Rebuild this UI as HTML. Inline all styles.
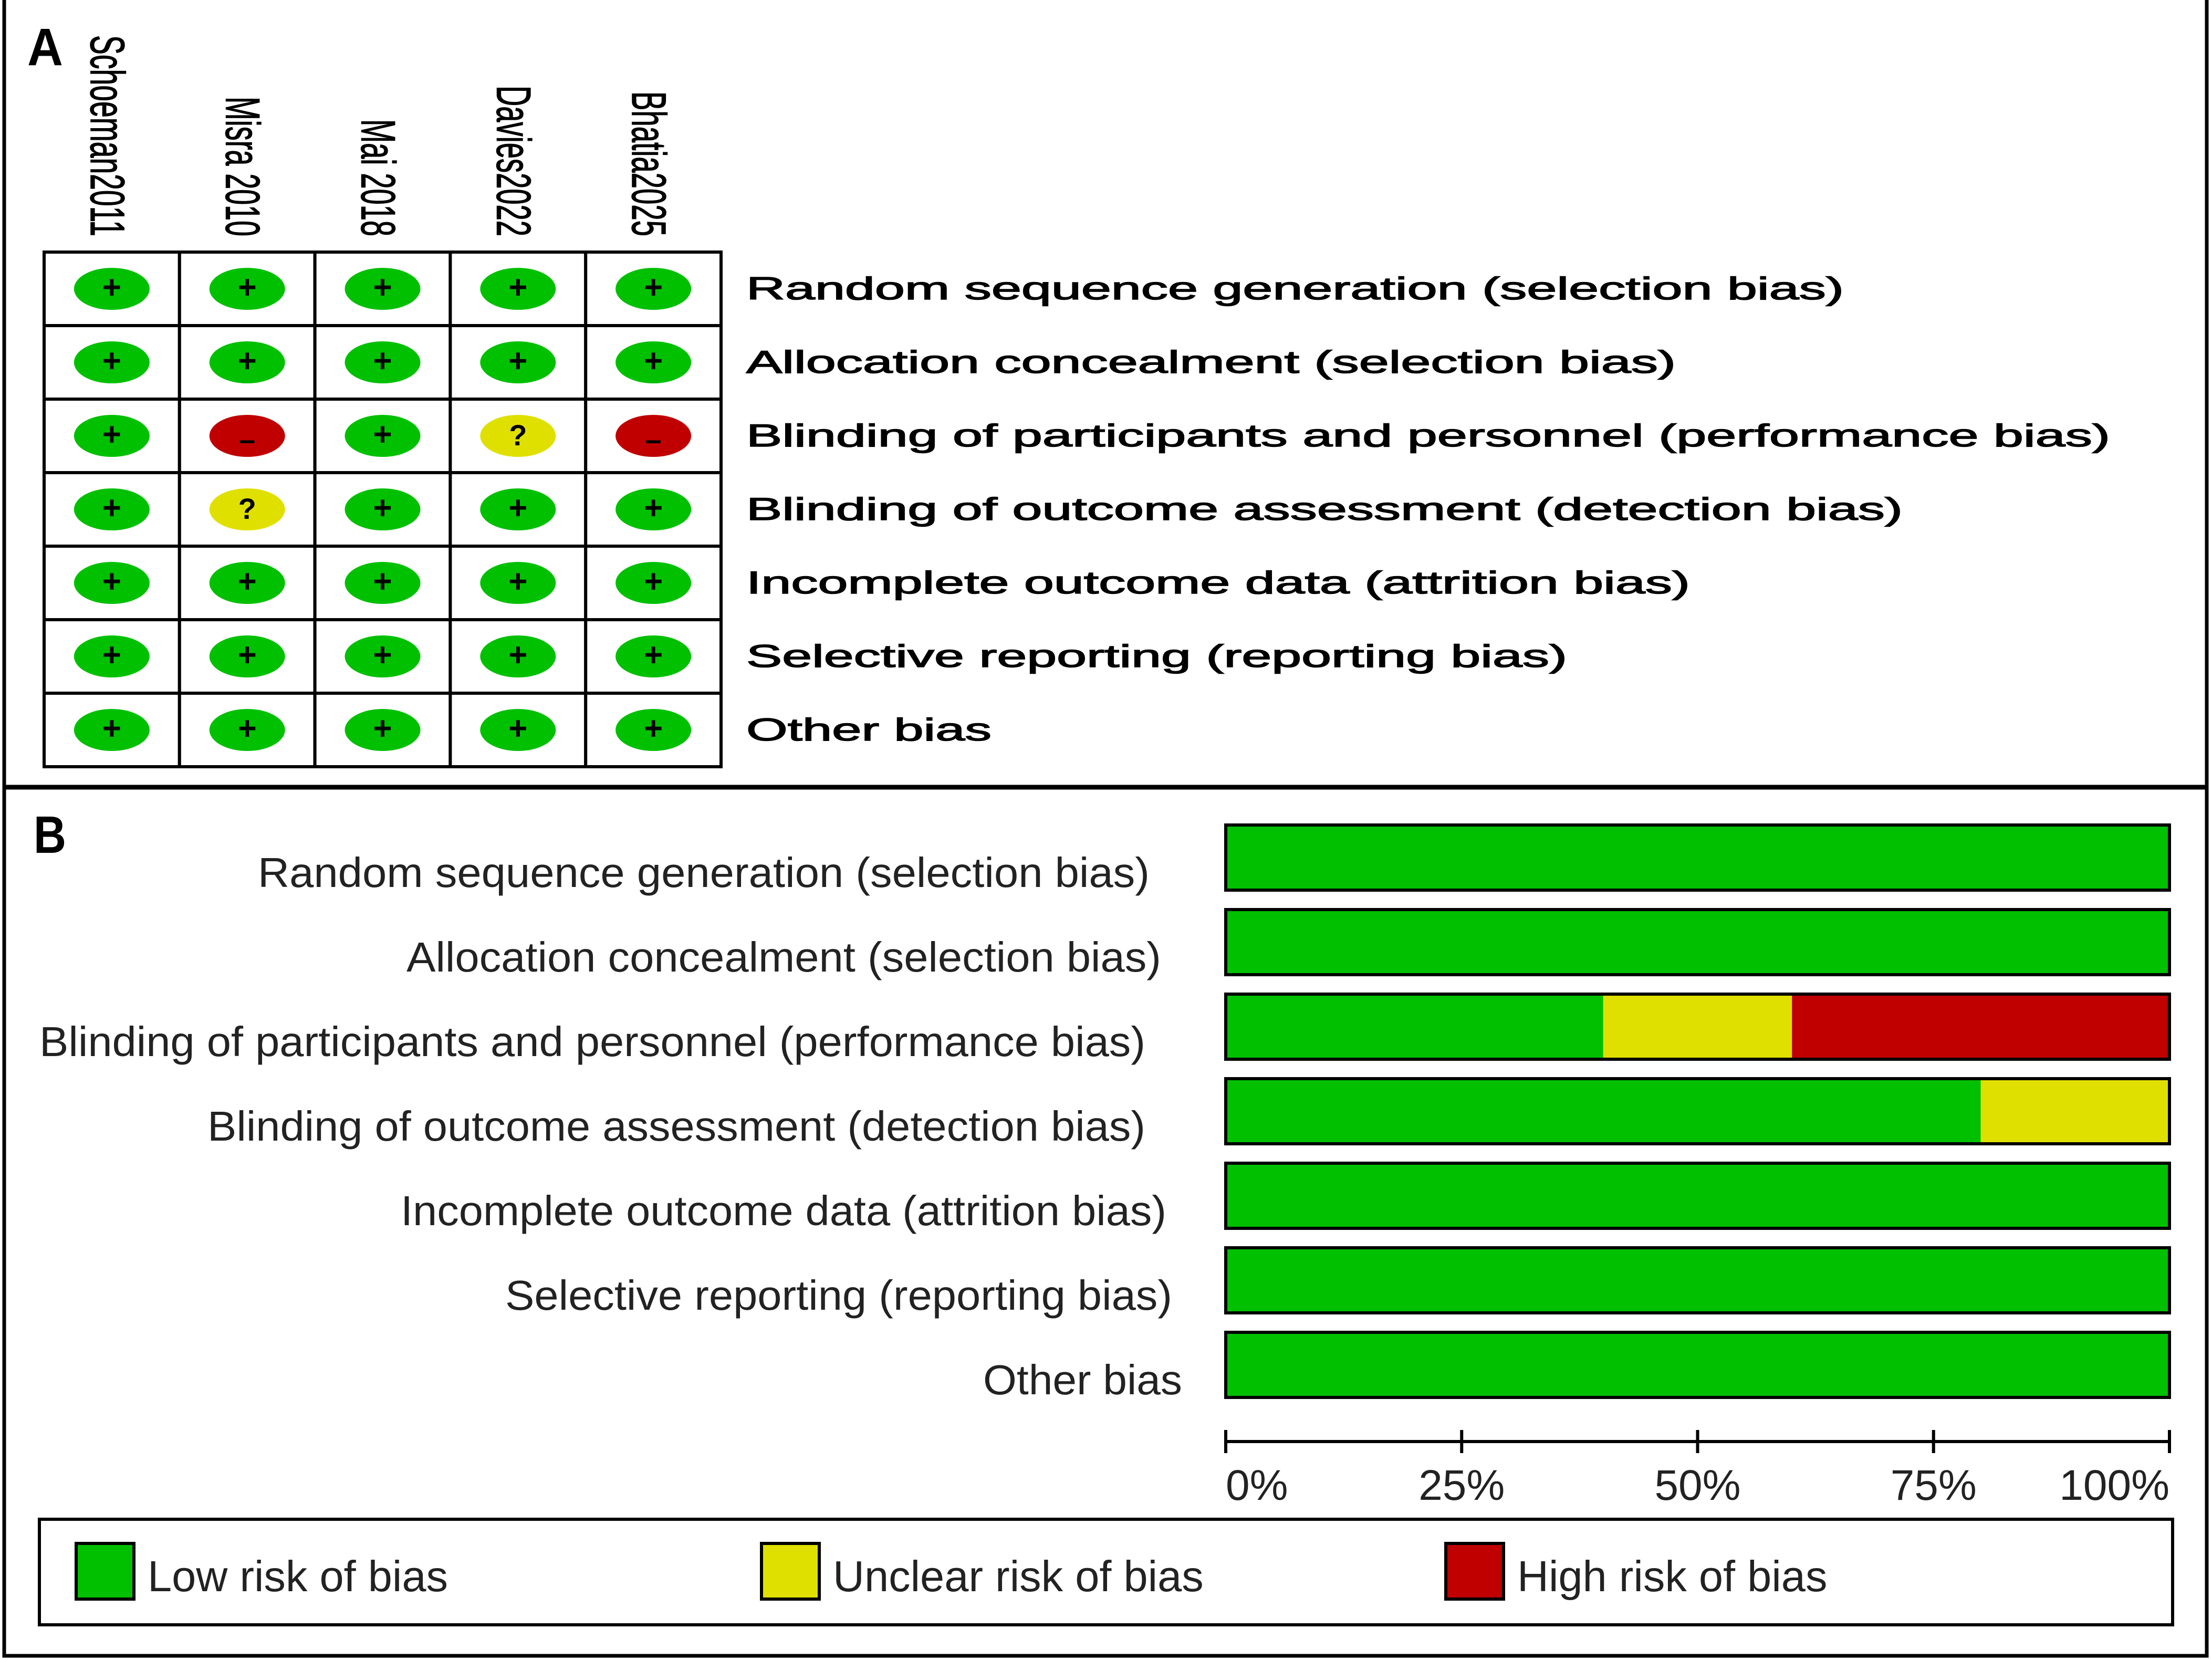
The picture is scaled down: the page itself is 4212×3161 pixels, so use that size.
<!DOCTYPE html>
<html><head><meta charset="utf-8"><style>
html,body{margin:0;padding:0;background:#fff;}
svg{display:block;}
text{font-family:"Liberation Sans",sans-serif;}
</style></head><body>
<svg id="chart" width="4212" height="3161" viewBox="0 0 4212 3161" xmlns="http://www.w3.org/2000/svg">
<rect x="0" y="0" width="4212" height="3161" fill="#fff"/>
<rect x="8" y="-4" width="4194" height="3157" fill="none" stroke="#000" stroke-width="7"/>
<line x1="8" y1="1499" x2="4202" y2="1499" stroke="#000" stroke-width="9"/>
<text x="52" y="124" font-size="100" font-weight="bold" textLength="68" lengthAdjust="spacingAndGlyphs">A</text>
<text x="64" y="1624" font-size="100" font-weight="bold" textLength="62" lengthAdjust="spacingAndGlyphs">B</text>
<g id="gA"></g>
<g id="gB"></g>
</svg>
<script>
const studies = ["Schoeman2011","Misra 2010","Mai 2018","Davies2022","Bhatia2025"];
const domains = ["Random sequence generation (selection bias)","Allocation concealment (selection bias)","Blinding of participants and personnel (performance bias)","Blinding of outcome assessment (detection bias)","Incomplete outcome data (attrition bias)","Selective reporting (reporting bias)","Other bias"];
// judgments per domain (rows) per study (cols): L=low, U=unclear, H=high
const judgments = [
 ["L","L","L","L","L"],
 ["L","L","L","L","L"],
 ["L","H","L","U","H"],
 ["L","U","L","L","L"],
 ["L","L","L","L","L"],
 ["L","L","L","L","L"],
 ["L","L","L","L","L"]
];
const lowPct = [100,100,40,80,100,100,100];
const unclearPct = [0,0,20,20,0,0,0];
const highPct = [0,0,40,0,0,0,0];
const tickLabels = ["0%","25%","50%","75%","100%"];
const tickValues = [0,25,50,75,100];
const legendLabels = ["Low risk of bias","Unclear risk of bias","High risk of bias"];

const NS="http://www.w3.org/2000/svg";
function mk(tag,attrs,parent){const e=document.createElementNS(NS,tag);for(const k in attrs)e.setAttribute(k,attrs[k]);parent.appendChild(e);return e;}
const COL={L:"#00c000",U:"#e0e000",H:"#c00000"};
const SYM={L:"+",U:"?",H:"–"};

// Panel A
const gA=document.getElementById('gA');
const gx0=84, cw=257.8, gy0=480, rh=140;
const colX=i=>gx0+i*cw, rowY=j=>gy0+j*rh;
const headLen=[383,266,223,287,276];
const domLen=[2090,1770,2597,2202,1797,1563,467];
studies.forEach((s,i)=>{
  const cx=colX(i)+cw/2-8;
  const t=mk('text',{x:0,y:0,'font-size':92,stroke:'#000','stroke-width':1.5,transform:`translate(${cx-32},450) rotate(90)`,'text-anchor':'end',textLength:headLen[i],lengthAdjust:'spacingAndGlyphs'},gA);
  
  
  t.textContent=s;
});
domains.forEach((d,j)=>{
  const t=mk('text',{x:1421,y:rowY(j)+rh/2+20,'font-size':60,stroke:'#000','stroke-width':1.5,textLength:domLen[j],lengthAdjust:'spacingAndGlyphs'},gA);
  
  
  t.textContent=d;
  studies.forEach((s,i)=>{
    const r=mk('rect',{x:colX(i),y:rowY(j),width:cw,height:rh,fill:'#fff',stroke:'#000','stroke-width':6},gA);
    
    
  });
});
domains.forEach((d,j)=>{
  studies.forEach((s,i)=>{
    const v=judgments[j][i];
    const cx=colX(i)+cw/2, cy=rowY(j)+rh/2;
    const e=mk('ellipse',{cx:cx,cy:cy,rx:72,ry:40,fill:COL[v]},gA);
    
    
    const t=mk('text',{x:cx,y:cy+(v==='H'?26:18),'font-size':v==='L'?62:56,'font-weight':'bold','text-anchor':'middle'},gA);
    
    
    t.textContent=SYM[v];
  });
});

// Panel B
const gB=document.getElementById('gB');
const bx0=2334, bx1=4131, by0=1571, bp=161, bh=124;
const xs=p=>bx0+(bx1-bx0)*p/100;
const labRight=[2189,2211,2181,2181,2221,2232,2251];
const labLen=[1698,1437,2106,1786,1458,1270,379];
domains.forEach((d,j)=>{
  const y=by0+j*bp;
  const t=mk('text',{x:labRight[j],y:y+bh/2+56,'font-size':80,'text-anchor':'end','fill':'#222',textLength:labLen[j],lengthAdjust:'spacingAndGlyphs'},gB);
  
  
  t.textContent=d;
  let acc=0;
  [[lowPct[j],'L'],[unclearPct[j],'U'],[highPct[j],'H']].forEach(([p,k])=>{
    if(p>0){
      const r=mk('rect',{x:xs(acc),y:y,width:xs(acc+p)-xs(acc),height:bh,fill:COL[k]},gB);
      
      
    }
    acc+=p;
  });
  const o=mk('rect',{x:bx0,y:y,width:bx1-bx0,height:bh,fill:'none',stroke:'#000','stroke-width':6},gB);
  
  
});
const ay=2745;
const ax=mk('line',{x1:bx0,y1:ay,x2:bx1,y2:ay,stroke:'#000','stroke-width':6},gB);


tickValues.forEach((v,i)=>{
  const x=xs(v);
  const tk=mk('line',{x1:x,y1:ay-22,x2:x,y2:ay+22,stroke:'#000','stroke-width':6},gB);
  
  
  const anchor=i===0?'start':(i===tickValues.length-1?'end':'middle');
  const t=mk('text',{x:x,y:2856,'font-size':82,'text-anchor':anchor,fill:'#222'},gB);
  
  
  t.textContent=tickLabels[i];
});
const lb=mk('rect',{x:75,y:2893,width:4062,height:201,fill:'none',stroke:'#000','stroke-width':6},gB);


const legX=[145,1450,2753], keys=['L','U','H'];
legendLabels.forEach((l,i)=>{
  const s=mk('rect',{x:legX[i],y:2939,width:110,height:106,fill:COL[keys[i]],stroke:'#000','stroke-width':6},gB);
  
  
  const t=mk('text',{x:legX[i]+136,y:3030,'font-size':83,fill:'#222'},gB);
  
  
  t.textContent=l;
});
</script>
</body></html>
